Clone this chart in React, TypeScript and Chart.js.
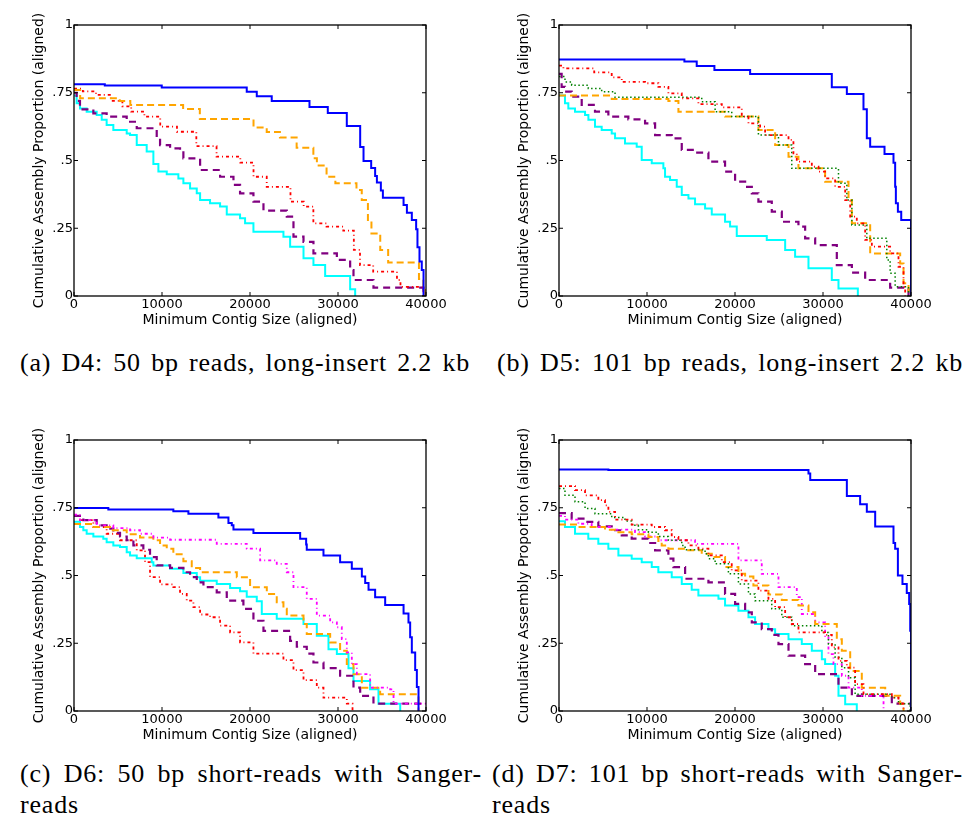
import React, { useEffect, useRef } from 'react';
import { Chart, registerables } from 'chart.js';

Chart.register(...registerables);

type Pt = [number, number];

// ---------- axis / text content ----------
const xTickLabels = ['0', '10000', '20000', '30000', '40000'];
const yTickLabels = ['0', '.25', '.5', '.75', '1'];
const xTitle = 'Minimum Contig Size (aligned)';
const yTitle = 'Cumulative Assembly Proportion (aligned)';
const captionA = '(a) D4: 50 bp reads, long-insert 2.2 kb';
const captionB = '(b) D5: 101 bp reads, long-insert 2.2 kb';
const captionC1 = '(c) D6:  50 bp short-reads with Sanger-';
const captionD1 = '(d) D7: 101 bp short-reads with Sanger-';
const captionCont = 'reads';

// ---------- panel (a) ----------
const aBlue: Pt[] = [[0,0.781],[3500,0.777],[9970,0.769],[19630,0.754],[20770,0.737],[22470,0.72],[26760,0.697],[28840,0.675],[31000,0.627],[32520,0.55],[32900,0.498],[33770,0.472],[34220,0.443],[34420,0.419],[34870,0.389],[35100,0.363],[37450,0.336],[37830,0.307],[38390,0.28],[38880,0.246],[39030,0.18],[39260,0.127],[39520,0.096],[39720,0]];
const aOrange: Pt[] = [[0,0.76],[700,0.73],[5200,0.72],[6400,0.705],[12400,0.69],[14300,0.653],[20400,0.622],[21900,0.605],[23400,0.585],[25300,0.547],[27200,0.508],[27600,0.482],[28700,0.44],[29700,0.416],[32100,0.391],[32700,0.354],[33400,0.28],[33800,0.231],[34800,0.17],[35700,0.124],[39200,0.063],[39700,0.034],[39900,0]];
const aRed: Pt[] = [[0,0.765],[1000,0.755],[2500,0.742],[4200,0.72],[5500,0.7],[6500,0.68],[8000,0.662],[9800,0.625],[11700,0.606],[13900,0.553],[16200,0.514],[18900,0.492],[20400,0.44],[21900,0.403],[24600,0.348],[26100,0.33],[27200,0.268],[28700,0.256],[30600,0.241],[31800,0.17],[32500,0.114],[34000,0.09],[36700,0.059],[37100,0.034],[39700,0]];
const aPurple: Pt[] = [[0,0.75],[300,0.72],[680,0.689],[2200,0.674],[3710,0.662],[5990,0.643],[7130,0.619],[9400,0.582],[9780,0.557],[10920,0.545],[12050,0.539],[12430,0.508],[14330,0.465],[16600,0.44],[18120,0.41],[18870,0.379],[20390,0.348],[21530,0.315],[24180,0.293],[24940,0.219],[26080,0.2],[27210,0.157],[29870,0.133],[31380,0.096],[31760,0.059],[34030,0.031],[39720,0]];
const aCyan: Pt[] = [[0,0.74],[300,0.711],[680,0.692],[1440,0.68],[2580,0.668],[3150,0.65],[3710,0.631],[4470,0.613],[5990,0.6],[6370,0.594],[7130,0.557],[8260,0.533],[9020,0.487],[9590,0.459],[10540,0.449],[11860,0.434],[12430,0.416],[13190,0.397],[13950,0.379],[14330,0.354],[15460,0.342],[16600,0.33],[17360,0.301],[18870,0.287],[19440,0.268],[20390,0.237],[23800,0.219],[24560,0.182],[26080,0.139],[27210,0.114],[28540,0.074],[31380,0.025],[31950,0]];

// ---------- panel (b) ----------
const bBlue: Pt[] = [[0,0.873],[14250,0.865],[15650,0.849],[17660,0.834],[21720,0.819],[31000,0.77],[32710,0.745],[34600,0.689],[34980,0.582],[35360,0.551],[36990,0.524],[38010,0.492],[38200,0.403],[38280,0.342],[38510,0.311],[38890,0.28],[40000,0]];
const bRed: Pt[] = [[0,0.85],[500,0.84],[4000,0.825],[5990,0.807],[7130,0.79],[9780,0.785],[11290,0.772],[12430,0.748],[13950,0.729],[15840,0.708],[18500,0.696],[20770,0.662],[21530,0.637],[22850,0.625],[23420,0.594],[26080,0.576],[26640,0.526],[27020,0.496],[28730,0.477],[29490,0.459],[30240,0.434],[31380,0.403],[32520,0.354],[33090,0.293],[33840,0.268],[34790,0.207],[35550,0.182],[37630,0.157],[38580,0.108],[39150,0.034],[39340,0]];
const bGreen: Pt[] = [[0,0.81],[680,0.79],[1440,0.778],[3330,0.766],[4850,0.754],[6370,0.733],[16220,0.717],[17740,0.68],[19630,0.662],[22660,0.594],[24940,0.557],[26450,0.471],[31760,0.416],[32710,0.354],[33280,0.262],[34980,0.213],[37250,0.133],[37630,0.084],[38200,0.034],[39720,0]];
const bOrange: Pt[] = [[0,0.74],[5990,0.727],[12430,0.72],[13570,0.68],[18870,0.662],[22660,0.613],[24560,0.557],[26080,0.514],[27210,0.471],[30240,0.422],[32900,0.354],[33280,0.268],[35360,0.157],[38770,0.12],[39150,0.047],[39720,0]];
const bPurple: Pt[] = [[0,0.82],[300,0.772],[680,0.754],[1440,0.736],[2580,0.705],[4090,0.68],[5610,0.662],[7880,0.652],[9780,0.637],[10920,0.594],[12810,0.582],[13950,0.539],[15460,0.529],[16980,0.496],[18870,0.459],[20010,0.422],[21150,0.403],[21910,0.379],[22660,0.348],[24180,0.311],[25320,0.274],[27210,0.256],[27970,0.213],[29110,0.188],[31570,0.114],[33280,0.086],[34790,0.059],[37630,0.031],[39720,0]];
const bCyan: Pt[] = [[0,0.74],[680,0.711],[1060,0.692],[1820,0.68],[2960,0.668],[3340,0.65],[4090,0.625],[4850,0.613],[5990,0.6],[6370,0.582],[7500,0.563],[8830,0.551],[9400,0.502],[10540,0.49],[11860,0.471],[12050,0.44],[12620,0.428],[13380,0.403],[13950,0.373],[14710,0.36],[15460,0.339],[16600,0.323],[17360,0.301],[18870,0.274],[19440,0.256],[20200,0.221],[23610,0.207],[25700,0.17],[26830,0.145],[28350,0.102],[31000,0.059],[31760,0.028],[33960,0]];

// ---------- panel (c) ----------
const cBlue: Pt[] = [[0,0.749],[3900,0.744],[11290,0.737],[13000,0.728],[16410,0.714],[17550,0.694],[17930,0.685],[18120,0.67],[20390,0.657],[25700,0.636],[26380,0.614],[26450,0.595],[28350,0.574],[30240,0.549],[31570,0.525],[32710,0.496],[33090,0.472],[33470,0.447],[34220,0.42],[35360,0.391],[37450,0.36],[38010,0.327],[38200,0.272],[38390,0.216],[38770,0.151],[38960,0.089],[39150,0]];
const cMagenta: Pt[] = [[0,0.725],[680,0.704],[2580,0.685],[4470,0.675],[6370,0.667],[7500,0.654],[9020,0.64],[10920,0.632],[16220,0.617],[19630,0.599],[21150,0.556],[23040,0.543],[24180,0.512],[24940,0.457],[26450,0.414],[27590,0.352],[29110,0.327],[29870,0.309],[30430,0.265],[31000,0.216],[31570,0.173],[32140,0.136],[33650,0.086],[35930,0.08],[36310,0.027],[40000,0.027]];
const cOrange: Pt[] = [[0,0.69],[2200,0.679],[4090,0.667],[5990,0.652],[7500,0.64],[9020,0.63],[9780,0.611],[10540,0.599],[11290,0.578],[12430,0.553],[13380,0.528],[14330,0.512],[18500,0.494],[20010,0.457],[21910,0.432],[23040,0.401],[23800,0.377],[24180,0.352],[26080,0.321],[26450,0.284],[29110,0.253],[30240,0.222],[31000,0.173],[31760,0.136],[32710,0.086],[34790,0.062],[39150,0]];
const cPurple: Pt[] = [[0,0.72],[1060,0.704],[2580,0.685],[3710,0.673],[4470,0.657],[5230,0.644],[5990,0.63],[6750,0.611],[7880,0.595],[8640,0.568],[9400,0.537],[10920,0.528],[12430,0.512],[13190,0.494],[13950,0.475],[14710,0.457],[16220,0.438],[17360,0.407],[19250,0.377],[20390,0.333],[21530,0.296],[24560,0.259],[25320,0.237],[26450,0.212],[27210,0.179],[28350,0.158],[30240,0.13],[31760,0.086],[32520,0.056],[34030,0.027],[40000,0.027]];
const cCyan: Pt[] = [[0,0.698],[680,0.679],[1060,0.667],[1440,0.654],[2200,0.644],[3330,0.636],[3710,0.623],[4470,0.611],[5230,0.605],[5990,0.586],[6370,0.574],[7130,0.564],[8830,0.549],[9020,0.537],[10920,0.525],[12430,0.509],[13950,0.494],[14330,0.481],[16220,0.469],[17740,0.454],[18870,0.442],[19630,0.422],[20770,0.405],[21340,0.358],[23040,0.34],[26080,0.321],[27590,0.278],[28920,0.228],[29870,0.21],[31190,0.158],[31760,0.111],[33650,0.08],[34600,0.027],[37070,0]];
const cRed: Pt[] = [[0,0.72],[680,0.704],[2200,0.679],[3710,0.654],[5230,0.63],[7130,0.593],[8070,0.549],[8640,0.494],[9780,0.467],[11290,0.457],[12050,0.432],[12810,0.407],[13570,0.383],[14330,0.356],[15460,0.346],[16600,0.315],[17740,0.29],[18870,0.253],[20390,0.212],[23800,0.188],[24940,0.151],[26080,0.114],[27590,0.086],[28350,0.049],[31000,0.027],[31650,0]];

// ---------- panel (d) ----------
const dBlue: Pt[] = [[0,0.891],[5610,0.889],[28350,0.876],[28550,0.852],[32710,0.793],[34220,0.763],[34980,0.735],[35930,0.681],[38010,0.62],[38200,0.599],[38510,0.5],[39030,0.469],[39520,0.435],[39790,0.395],[39910,0.296],[40000,0]];
const dRed: Pt[] = [[0,0.83],[1820,0.815],[2960,0.796],[4470,0.778],[5230,0.759],[5610,0.735],[6370,0.706],[8260,0.688],[10540,0.679],[12050,0.667],[12810,0.642],[13570,0.63],[14710,0.611],[15840,0.599],[16980,0.574],[18500,0.549],[19630,0.519],[20770,0.481],[22660,0.444],[23800,0.414],[24560,0.383],[25700,0.346],[26450,0.321],[27210,0.29],[30240,0.281],[31000,0.235],[31760,0.185],[32710,0.16],[33650,0.099],[34600,0.062],[37820,0.049],[38580,0.027],[39150,0]];
const dGreen: Pt[] = [[0,0.821],[680,0.796],[1820,0.772],[2960,0.747],[4090,0.728],[5990,0.714],[7500,0.701],[8260,0.685],[9020,0.669],[10160,0.66],[11290,0.644],[12430,0.63],[13950,0.611],[14330,0.595],[16600,0.58],[16980,0.562],[17740,0.543],[19250,0.506],[20390,0.469],[21530,0.432],[22280,0.407],[24180,0.377],[25320,0.346],[26450,0.315],[29870,0.29],[30620,0.247],[31380,0.198],[32140,0.16],[32900,0.123],[33650,0.062],[37820,0.049],[38580,0.027],[39910,0]];
const dOrange: Pt[] = [[0,0.688],[2200,0.679],[5230,0.669],[6750,0.66],[8260,0.652],[10160,0.642],[11290,0.627],[11670,0.611],[12430,0.599],[14330,0.593],[16220,0.58],[17360,0.568],[18870,0.531],[20390,0.506],[21150,0.496],[22090,0.463],[23800,0.43],[25320,0.41],[27210,0.389],[28350,0.364],[29110,0.321],[31570,0.265],[32140,0.222],[33090,0.148],[34410,0.086],[37070,0.056],[38770,0.027],[39150,0]];
const dMagenta: Pt[] = [[0,0.72],[680,0.706],[2200,0.691],[3710,0.679],[5990,0.669],[8640,0.66],[9780,0.644],[11290,0.63],[15460,0.617],[20390,0.556],[23040,0.506],[24940,0.457],[27020,0.42],[27590,0.358],[29110,0.327],[30240,0.272],[30620,0.21],[31190,0.173],[32140,0.13],[32900,0.086],[34410,0.056],[36880,0]];
const dPurple: Pt[] = [[0,0.73],[1440,0.71],[2960,0.698],[4470,0.681],[5990,0.667],[7130,0.648],[8260,0.636],[10160,0.62],[10920,0.593],[12430,0.562],[13000,0.531],[14330,0.488],[16980,0.475],[18870,0.432],[20010,0.395],[21150,0.364],[21910,0.327],[23040,0.302],[24180,0.281],[24940,0.247],[26080,0.204],[27970,0.173],[29110,0.136],[31760,0.086],[33280,0.056],[37820,0.027],[40000,0.027]];
const dCyan: Pt[] = [[0,0.7],[680,0.679],[1820,0.654],[3330,0.636],[4470,0.617],[5610,0.599],[6750,0.574],[8260,0.562],[9400,0.549],[10540,0.531],[11290,0.512],[12810,0.494],[13950,0.469],[15080,0.447],[15840,0.426],[18120,0.414],[18870,0.389],[20390,0.37],[21530,0.346],[22280,0.321],[23800,0.302],[24560,0.284],[26080,0.265],[27590,0.247],[28730,0.222],[29870,0.191],[30240,0.173],[31380,0.13],[31760,0.056],[32520,0.025],[33840,0]];

// ---------- styles ----------
type StyleKey = 'blue' | 'cyan' | 'purple' | 'orange' | 'red' | 'green' | 'magenta';
const LINE_STYLES: Record<StyleKey, { color: string; width: number; dash: number[] }> = {
  blue: { color: '#0000ff', width: 2, dash: [] },
  cyan: { color: '#00ffff', width: 2, dash: [] },
  purple: { color: '#800080', width: 2.2, dash: [7, 5] },
  orange: { color: '#ffa500', width: 2, dash: [7, 4] },
  red: { color: '#ff0000', width: 1.8, dash: [3, 3, 1, 3] },
  green: { color: '#008000', width: 1.5, dash: [1.5, 2.5] },
  magenta: { color: '#ff00ff', width: 1.8, dash: [3, 3, 1, 3] },
};

type PanelDef = { left: number; top: number; series: [StyleKey, Pt[]][] };
const PANELS: PanelDef[] = [
  { left: 0, top: 0, series: [['blue', aBlue], ['orange', aOrange], ['red', aRed], ['purple', aPurple], ['cyan', aCyan]] },
  { left: 485, top: 0, series: [['blue', bBlue], ['red', bRed], ['green', bGreen], ['orange', bOrange], ['purple', bPurple], ['cyan', bCyan]] },
  { left: 0, top: 415, series: [['blue', cBlue], ['magenta', cMagenta], ['orange', cOrange], ['purple', cPurple], ['cyan', cCyan], ['red', cRed]] },
  { left: 485, top: 415, series: [['blue', dBlue], ['red', dRed], ['green', dGreen], ['orange', dOrange], ['magenta', dMagenta], ['purple', dPurple], ['cyan', dCyan]] },
];

const CW = 466;
const CH = 330;

const framePlugin = {
  id: 'mplFrame',
  afterDatasetsDraw(chart: any) {
    const { ctx, chartArea: a, scales } = chart;
    ctx.save();
    ctx.strokeStyle = '#000';
    ctx.lineWidth = 1.3;
    ctx.setLineDash([]);
    ctx.strokeRect(a.left, a.top, a.right - a.left, a.bottom - a.top);
    ctx.lineWidth = 1;
    const L = 4;
    const seg = (x1: number, y1: number, x2: number, y2: number) => {
      ctx.beginPath();
      ctx.moveTo(x1, y1);
      ctx.lineTo(x2, y2);
      ctx.stroke();
    };
    scales.x.ticks.forEach((t: any) => {
      const px = scales.x.getPixelForValue(t.value);
      seg(px, a.bottom, px, a.bottom - L);
      seg(px, a.top, px, a.top + L);
    });
    scales.y.ticks.forEach((t: any) => {
      const py = scales.y.getPixelForValue(t.value);
      seg(a.left, py, a.left + L, py);
      seg(a.right, py, a.right - L, py);
    });
    ctx.restore();
  },
};

function Panel({ def }: { def: PanelDef }) {
  const ref = useRef<HTMLCanvasElement>(null);
  useEffect(() => {
    if (!ref.current) return;
    const font = { family: 'DejaVu Sans', size: 13 };
    const titleFont = { family: 'DejaVu Sans', size: 14 };
    const chart = new Chart(ref.current, {
      type: 'line',
      data: {
        datasets: def.series.map(([key, pts]) => {
          const st = LINE_STYLES[key];
          return {
            data: pts.map(([x, y]) => ({ x, y })),
            borderColor: st.color,
            borderWidth: st.width,
            borderDash: st.dash,
            stepped: true,
            pointRadius: 0,
            fill: false,
            tension: 0,
          };
        }),
      },
      options: {
        animation: false,
        responsive: false,
        maintainAspectRatio: false,
        events: [],
        layout: { padding: { left: 24, top: 25, right: 40, bottom: 0 } },
        plugins: { legend: { display: false }, tooltip: { enabled: false }, title: { display: false } },
        scales: {
          x: {
            type: 'linear',
            min: 0,
            max: 40000,
            grid: { display: false, drawTicks: false },
            border: { display: false },
            ticks: {
              stepSize: 10000,
              padding: 1,
              maxRotation: 0,
              autoSkip: false,
              color: '#000',
              font,
              callback: (_v: any, i: number) => xTickLabels[i],
            },
            title: { display: true, text: xTitle, color: '#000', font: titleFont, padding: { top: 0, bottom: 1 } },
            afterFit: (s: any) => { s.height = 34; },
          },
          y: {
            type: 'linear',
            min: 0,
            max: 1,
            grid: { display: false, drawTicks: false },
            border: { display: false },
            ticks: {
              stepSize: 0.25,
              padding: 1,
              color: '#000',
              font,
              callback: (_v: any, i: number) => yTickLabels[i],
            },
            title: { display: true, text: yTitle, color: '#000', font: titleFont, padding: { top: 7, bottom: 0 } },
            afterFit: (s: any) => { s.width = 50; },
          },
        },
      } as any,
      plugins: [framePlugin],
    });
    return () => chart.destroy();
  }, [def]);
  return (
    <canvas
      ref={ref}
      width={CW}
      height={CH}
      style={{ position: 'absolute', left: def.left, top: def.top, width: CW, height: CH }}
    />
  );
}

const capStyle = (left: number, top: number, width: number): React.CSSProperties => ({
  position: 'absolute',
  left,
  top,
  width,
  fontFamily: '"Liberation Serif", "Times New Roman", serif',
  fontSize: 26,
  lineHeight: '30px',
  letterSpacing: '0.8px',
  whiteSpace: 'nowrap',
  textAlign: 'justify',
  textAlignLast: 'justify',
  color: '#000',
});

export default function App() {
  return (
    <div style={{ position: 'absolute', left: 0, top: 0, width: 967, height: 816, background: '#fff', overflow: 'hidden' }}>
      {PANELS.map((p, i) => (
        <Panel key={i} def={p} />
      ))}
      <div style={capStyle(20, 348, 450)}>{captionA}</div>
      <div style={capStyle(497, 348, 466)}>{captionB}</div>
      <div style={capStyle(20, 759, 462)}>{captionC1}</div>
      <div style={{ ...capStyle(20, 790, 100), textAlign: 'left', textAlignLast: 'left' }}>{captionCont}</div>
      <div style={capStyle(492, 759, 471)}>{captionD1}</div>
      <div style={{ ...capStyle(492, 790, 100), textAlign: 'left', textAlignLast: 'left' }}>{captionCont}</div>
    </div>
  );
}
